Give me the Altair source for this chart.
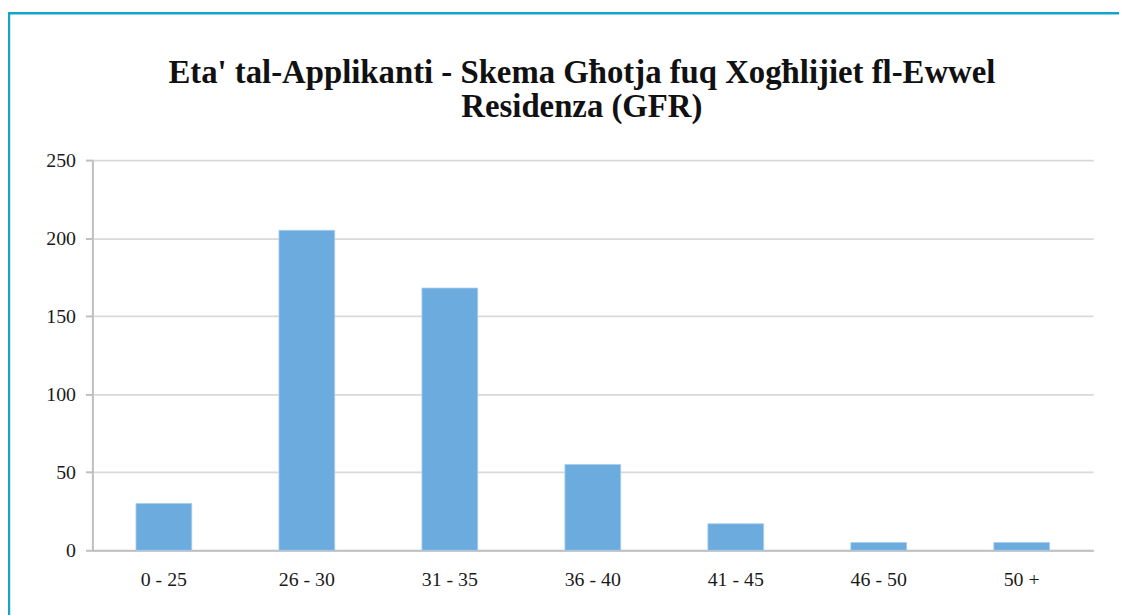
import altair as alt
import pandas as pd

categories = ["0 - 25", "26 - 30", "31 - 35", "36 - 40", "41 - 45", "46 - 50", "50 +"]
values = [30, 205, 168, 55, 17, 5, 5]
y_ticks = [0, 50, 100, 150, 200, 250]
title_lines = ["Eta' tal-Applikanti - Skema Għotja fuq Xogħlijiet fl-Ewwel", "Residenza (GFR)"]

df = pd.DataFrame({"cat": categories, "val": values})

FONT = "Liberation Serif"

bars = alt.Chart(df).mark_bar(color="#6cabdd", stroke="#a9cdee", strokeWidth=0.8).encode(
    x=alt.X("cat:N", sort=None, title=None,
            scale=alt.Scale(paddingInner=0.61, paddingOuter=0.305),
            axis=alt.Axis(labelAngle=0, ticks=False, labelPadding=19, domainColor="#bfbfbf",
                          domainWidth=2, labelFontSize=20, labelFont=FONT, labelColor="#1a1a1a",
                          grid=False)),
    y=alt.Y("val:Q", title=None,
            scale=alt.Scale(domain=[0, 250], nice=False),
            axis=alt.Axis(values=y_ticks, tickSize=7, tickColor="#bfbfbf", tickWidth=2,
                          domainColor="#bfbfbf", domainWidth=2, labelPadding=10,
                          labelFontSize=20, labelFont=FONT, labelColor="#1a1a1a",
                          gridColor="#d9d9d9", gridWidth=1.8)),
)

border = alt.Chart(df).mark_rect(fill=None, stroke="#12a5c7", strokeWidth=2.5).encode(
    x=alt.value(-84), x2=alt.value(1050), y=alt.value(-148), y2=alt.value(470)
).transform_filter(alt.datum.cat == categories[0])

chart = alt.layer(border, bars).properties(
    width=1008, height=393,
    autosize=alt.AutoSizeParams(type="none"),
    padding={"left": 85, "top": 151, "right": 26, "bottom": 63},
    title=alt.TitleParams(text=title_lines, font=FONT, fontSize=33, fontWeight="bold",
                          color="#111111", anchor="middle", frame="group", baseline="alphabetic",
                          offset=0, dx=-11, dy=139, lineHeight=34),
).configure_view(stroke=None)

chart.save("out.html", embed_options={"renderer": "svg", "actions": False})
